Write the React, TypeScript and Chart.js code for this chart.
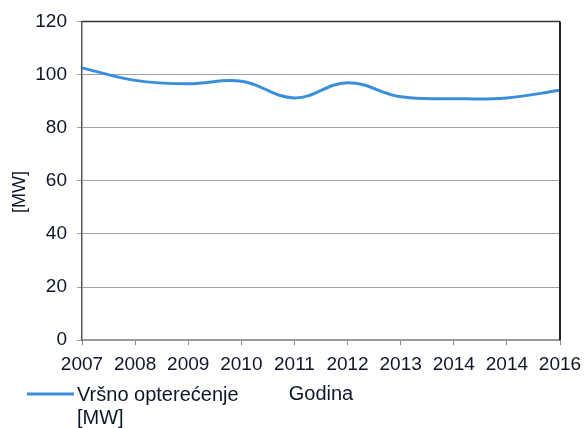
import React, { useEffect, useRef } from "react";
import { Chart, registerables } from "chart.js";

Chart.register(...registerables);

const categories = ["2007", "2008", "2009", "2010", "2011", "2012", "2013", "2014", "2014", "2016"];
const peakLoad = [102.5, 97.8, 96.5, 97.5, 91.2, 96.9, 91.6, 90.9, 91.2, 94.1];
const seriesLabel = ["Vršno opterećenje", "[MW]"];
const yTitle = "[MW]";
const xTitle = "Godina";

const FONT = "'Liberation Sans', Arial, sans-serif";
const TEXT = "#0e1628";
const LINE = "#3a8fdc";

export default function App() {
  const ref = useRef<HTMLCanvasElement | null>(null);

  useEffect(() => {
    const canvas = ref.current;
    if (!canvas) return;

    const framePlugin = {
      id: "frame",
      afterDraw(chart: any) {
        const { ctx, chartArea } = chart;
        const { left, right, top, bottom } = chartArea;
        ctx.save();
        ctx.strokeStyle = "#333";
        ctx.lineWidth = 1.5;
        ctx.beginPath();
        ctx.moveTo(left, top);
        ctx.lineTo(right, top);
        ctx.stroke();
        ctx.lineWidth = 2;
        ctx.strokeStyle = "#222";
        ctx.beginPath();
        ctx.moveTo(right, top);
        ctx.lineTo(right, bottom);
        ctx.stroke();
        // y-axis title
        ctx.fillStyle = TEXT;
        ctx.font = `18px ${FONT}`;
        ctx.textAlign = "center";
        ctx.textBaseline = "middle";
        ctx.save();
        ctx.translate(20, 192);
        ctx.rotate(-Math.PI / 2);
        ctx.fillText(yTitle, 0, 0);
        ctx.restore();
        // legend
        ctx.strokeStyle = LINE;
        ctx.lineWidth = 3;
        ctx.beginPath();
        ctx.moveTo(27, 394);
        ctx.lineTo(74, 394);
        ctx.stroke();
        ctx.font = `20px ${FONT}`;
        ctx.textAlign = "left";
        ctx.fillText(seriesLabel[0], 77, 395);
        ctx.fillText(seriesLabel[1], 77, 418);
        ctx.restore();
      },
    };

    const chart = new Chart(canvas, {
      type: "line",
      data: {
        labels: categories,
        datasets: [
          {
            label: seriesLabel.join(" "),
            data: peakLoad,
            borderColor: LINE,
            backgroundColor: LINE,
            borderWidth: 3,
            pointRadius: 0,
            tension: 0.4,
            fill: false,
          },
        ],
      },
      options: {
        animation: false,
        responsive: false,
        layout: { padding: { left: 0, right: 27, top: 21, bottom: 15 } },
        plugins: {
          legend: { display: false },
          tooltip: { enabled: false },
        },
        scales: {
          x: {
            offset: false,
            afterFit(scale: any) {
              scale.paddingRight = 20;
            },
            grid: {
              display: true,
              drawOnChartArea: false,
              drawTicks: true,
              tickLength: 5,
              color: "#888",
            },
            border: { color: "#999", width: 1.5 },
            ticks: {
              color: TEXT,
              font: { family: FONT, size: 19 },
              padding: 8,
              maxRotation: 0,
              autoSkip: false,
            },
            title: {
              display: true,
              text: xTitle,
              color: TEXT,
              font: { family: FONT, size: 20, lineHeight: 1.0 },
              padding: { top: 0, bottom: 9 },
            },
          },
          y: {
            min: 0,
            max: 120,
            afterFit(scale: any) {
              scale.width = 82;
            },
            grid: {
              color: "#a0a0a0",
              lineWidth: 1,
              tickLength: 5,
              drawTicks: true,
            },
            border: { color: "#555", width: 1.5 },
            ticks: {
              stepSize: 20,
              color: TEXT,
              font: { family: FONT, size: 19 },
              padding: 10,
            },
          },
        },
      },
      plugins: [framePlugin],
    } as any);

    return () => chart.destroy();
  }, []);

  return (
    <div style={{ position: "absolute", left: 0, top: 0, width: 587, height: 428, background: "#fff" }}>
      <canvas ref={ref} width={587} height={428} style={{ display: "block", width: 587, height: 428 }} />
    </div>
  );
}
